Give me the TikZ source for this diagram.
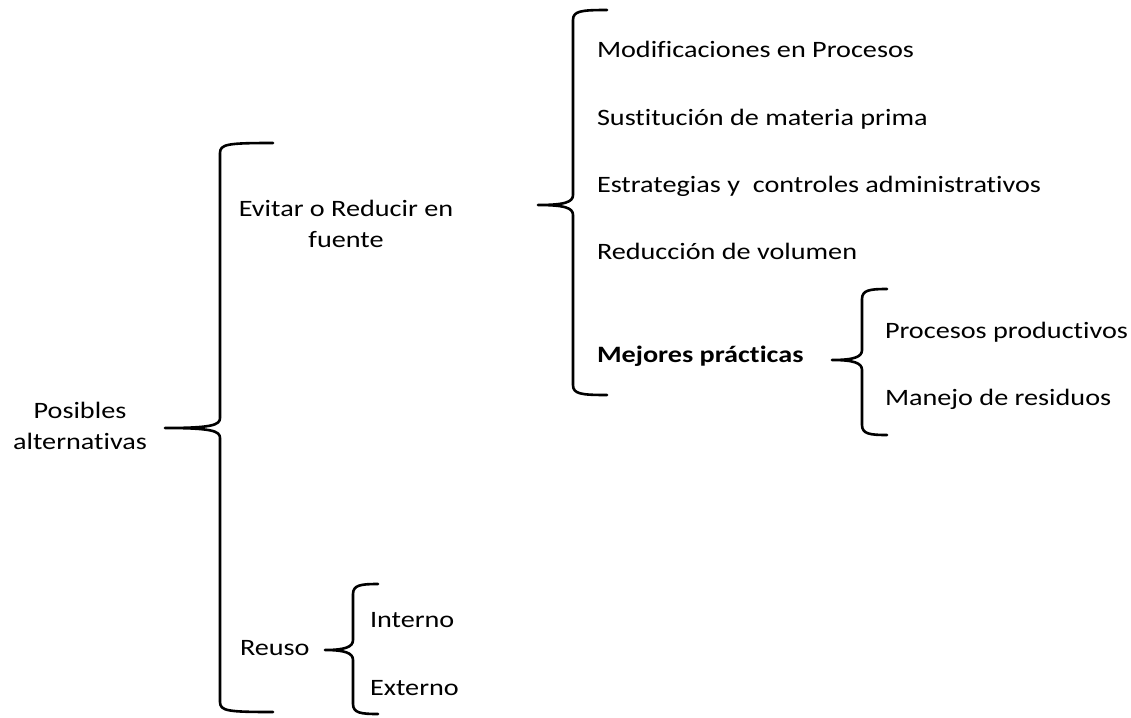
\documentclass[tikz,border=0pt]{standalone}
\usepackage{fontspec}
\setmainfont{Carlito}[Ligatures=NoCommon,FakeStretch=1.2]
\begin{document}
\begin{tikzpicture}[x=1pt,y=-1pt,
  lbl/.style={inner sep=0pt,outer sep=0pt,font=\fontsize{23.5}{31}\selectfont},
  brc/.style={line width=2.6pt,black,line cap=round,line join=round}]
\useasboundingbox (0,0) rectangle (1131,717);
% \mybrace{xv}{ytop}{ytip}{ybot}{xtip}{xend}
\newcommand\mybrace[6]{%
  \draw[brc] (#6,#2) .. controls (#1+8,#2) and (#1,#2+1) .. (#1,#2+10)
    -- (#1,#3-10) .. controls (#1,#3-3) and (#1-8,#3) .. (#5,#3)
    .. controls (#1-8,#3) and (#1,#3+3) .. (#1,#3+10)
    -- (#1,#4-10) .. controls (#1,#4-1) and (#1+8,#4) .. (#6,#4);}
% texts
\node[lbl,align=center] (pos) at (80,426) {Posibles\\alternativas};
\node[lbl,align=center] (evi) at (346,224) {Evitar o Reducir en\\fuente};
\node[lbl,anchor=base west] (reu) at (240,655) {Reuso};
\node[lbl,anchor=base west] (int) at (370,627) {Interno};
\node[lbl,anchor=base west] (ext) at (370,695) {Externo};
\node[lbl,anchor=base west] (mod) at (597,57) {Modificaciones en Procesos};
\node[lbl,anchor=base west] (sus) at (597,125) {Sustitución de materia prima};
\node[lbl,anchor=base west] (est) at (597,192) {Estrategias y\ \ controles administrativos};
\node[lbl,anchor=base west] (red) at (597,259) {Reducción de volumen};
\node[lbl,anchor=base west,font=\fontsize{23.5}{31}\selectfont\bfseries] (mej) at (597,362) {Mejores prácticas};
\node[lbl,anchor=base west] (pro) at (885,338) {Procesos productivos};
\node[lbl,anchor=base west] (man) at (885,405) {Manejo de residuos};
% braces
\mybrace{220}{143}{428}{712}{165}{273}
\mybrace{573}{10}{205}{395}{538}{607}
\mybrace{862}{289}{360}{435}{832}{887}
\mybrace{353}{584}{650}{714}{325}{378}
\end{tikzpicture}
\end{document}
